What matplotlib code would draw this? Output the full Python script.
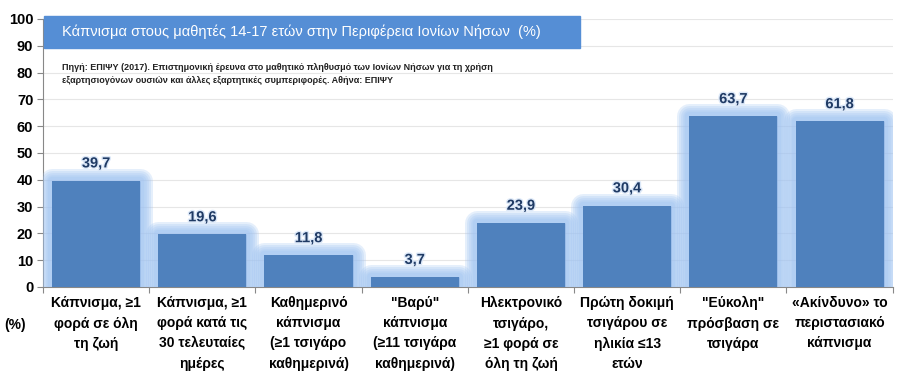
import matplotlib
matplotlib.use("Agg")
import matplotlib.pyplot as plt
import matplotlib.patheffects as pe
import numpy as np

plt.rcParams['font.family'] = ['Liberation Sans', 'DejaVu Sans']

categories = [
    "Κάπνισμα, ≥1\nφορά σε όλη\nτη ζωή",
    "Κάπνισμα, ≥1\nφορά κατά τις\n30 τελευταίες\nημέρες",
    "Καθημερινό\nκάπνισμα\n(≥1 τσιγάρο\nκαθημερινά)",
    "\"Βαρύ\"\nκάπνισμα\n(≥11 τσιγάρα\nκαθημερινά)",
    "Ηλεκτρονικό\nτσιγάρο,\n≥1 φορά σε\nόλη τη ζωή",
    "Πρώτη δοκιμή\nτσιγάρου σε\nηλικία ≤13\nετών",
    "\"Εύκολη\"\nπρόσβαση σε\nτσιγάρα",
    "«Ακίνδυνο» το\nπεριστασιακό\nκάπνισμα",
]
values = [39.7, 19.6, 11.8, 3.7, 23.9, 30.4, 63.7, 61.8]
yticks = list(range(0, 101, 10))

title = "Κάπνισμα στους μαθητές 14-17 ετών στην Περιφέρεια Ιονίων Νήσων  (%)"
source = ("Πηγή: ΕΠΙΨΥ (2017). Επιστημονική έρευνα στο μαθητικό πληθυσμό των Ιονίων Νήσων για τη χρήση\n"
          "εξαρτησιογόνων ουσιών και άλλες εξαρτητικές συμπεριφορές. Αθήνα: ΕΠΙΨΥ")

fig = plt.figure(figsize=(9.02, 3.86), dpi=100)
ax = fig.add_axes([0.0477, 0.2565, 0.942, 0.6943])

x = np.arange(len(values))
# soft glow: stacked translucent strokes
glow = [pe.Stroke(linewidth=w, foreground='#a0c4f2', alpha=0.27, joinstyle='round')
        for w in (18, 15, 12, 9, 6)] + [pe.Normal()]
bars = ax.bar(x, values, width=0.83, color='#4f81bd', zorder=3, path_effects=glow)

for xi, v in zip(x, values):
    ax.text(xi, v + 3.8, f"{v:.1f}".replace('.', ','), ha='center', va='bottom',
            fontsize=10.5, fontweight='bold', color='#1f3a64', zorder=5,
            path_effects=[pe.withStroke(linewidth=2, foreground='#dce8f8')])

ax.set_xlim(-0.5, len(values) - 0.5)
ax.set_ylim(0, 100)
ax.set_yticks(yticks)
ax.set_yticklabels([str(t) for t in yticks], fontsize=10.5, fontweight='bold')
ax.set_xticks(np.arange(len(values) + 1) - 0.5, minor=False)
ax.set_xticklabels([])
ax.tick_params(axis='x', length=4, color='#888888')
ax.tick_params(axis='y', length=4, color='#888888', pad=3)
for xi, lab in zip(x, categories):
    ax.text(xi, -3.5, lab, ha='center', va='top', fontsize=10, fontweight='bold',
            linespacing=1.55, transform=ax.transData, clip_on=False)

ax.grid(axis='y', color='#e6e6e6', linewidth=0.8, zorder=0)
for s in ['top', 'right']:
    ax.spines[s].set_visible(False)
ax.spines['left'].set_color('#888888')
ax.spines['bottom'].set_color('#888888')

fig.text(15 / 902, 1 - 325 / 386, "(%)", ha='center', va='center',
         fontsize=10, fontweight='bold')

# title box
fig.patches.append(plt.Rectangle((44 / 902, 1 - 48 / 386), 536 / 902, 32 / 386,
                                 transform=fig.transFigure, color='#558ed5', zorder=1))
fig.text(62 / 902, 1 - 32 / 386, title, ha='left', va='center', fontsize=10.5,
         color='white', zorder=2)
fig.text(62 / 902, 1 - 74 / 386, source, ha='left', va='center', fontsize=6.5,
         fontweight='bold', color='#222222', linespacing=1.6)

fig.savefig("out.png", dpi=100)
